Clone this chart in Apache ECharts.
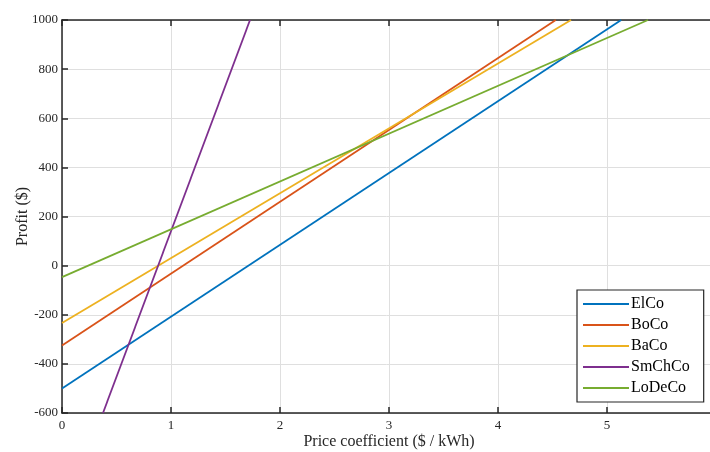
<!DOCTYPE html>
<html><head><meta charset="utf-8">
<script src="https://cdn.jsdelivr.net/npm/echarts@6/dist/echarts.min.js"></script>
<style>html,body{margin:0;padding:0;background:#fff}#c{width:710px;height:452px}</style>
</head><body><div id="c"></div>
<script>
const seriesNames = ['ElCo','BoCo','BaCo','SmChCo','LoDeCo'];
const colors = ['#0072BD','#D95319','#EDB120','#7E2F8E','#77AC30'];
// endpoints: [price, profit]
const elco   = [[0,-500],[5.13,1000]];
const boco   = [[0,-325],[4.53,1000]];
const baco   = [[0,-234],[4.67,1000]];
const smchco = [[0.376,-600],[1.725,1000]];
const lodeco = [[0,-47],[5.376,1000]];
const allData = [elco,boco,baco,smchco,lodeco];
const xTicks = [0,1,2,3,4,5,6];
const yTicks = [-600,-400,-200,0,200,400,600,800,1000];

const font = 'Liberation Serif';
const chart = echarts.init(document.getElementById('c'));
const axLine = {show:true,onZero:false,lineStyle:{color:'#262626',width:1.5}};
const axTick = {show:true,inside:true,length:6,lineStyle:{color:'#262626',width:1.5}};
chart.setOption({
  animation:false,
  textStyle:{fontFamily:font},
  grid:{left:62,top:20,width:654,height:393,outerBoundsMode:'none',containLabel:false},
  xAxis:[{
    type:'value',min:xTicks[0],max:xTicks[xTicks.length-1],interval:1,
    name:'Price coefficient ($ / kWh)',nameLocation:'middle',nameGap:21,nameMoveOverlap:false,
    nameTextStyle:{fontFamily:font,fontSize:16,color:'#262626'},
    axisLine:axLine,axisTick:axTick,
    axisLabel:{fontFamily:font,fontSize:13,color:'#262626',margin:6},
    splitLine:{show:true,lineStyle:{color:'#dfdfdf',width:1}}
  },{
    type:'value',position:'top',min:xTicks[0],max:xTicks[xTicks.length-1],interval:1,
    axisLine:axLine,axisTick:axTick,
    axisLabel:{show:false},splitLine:{show:false}
  }],
  yAxis:[{
    type:'value',min:yTicks[0],max:yTicks[yTicks.length-1],interval:200,
    name:'Profit ($)',nameLocation:'middle',nameGap:31,nameMoveOverlap:false,
    nameTextStyle:{fontFamily:font,fontSize:16,color:'#262626'},
    axisLine:axLine,axisTick:axTick,
    axisLabel:{fontFamily:font,fontSize:13,color:'#262626',margin:4,formatter:v=>String(v)},
    splitLine:{show:true,lineStyle:{color:'#dfdfdf',width:1}}
  },{
    type:'value',position:'right',min:yTicks[0],max:yTicks[yTicks.length-1],interval:200,
    axisLine:axLine,axisTick:axTick,
    axisLabel:{show:false},splitLine:{show:false}
  }],
  legend:{
    orient:'vertical',left:577,top:290,
    data:seriesNames,
    icon:'rect',itemWidth:46,itemHeight:2,itemGap:5,
    padding:[6,14,6,6],
    borderColor:'#262626',borderWidth:1.2,backgroundColor:'#fff',
    textStyle:{fontFamily:font,fontSize:16,color:'#000',padding:[0,0,0,-3]}
  },
  series:seriesNames.map((n,i)=>({
    name:n,type:'line',data:allData[i],showSymbol:false,symbol:'none',
    lineStyle:{color:colors[i],width:1.8},itemStyle:{color:colors[i]},
    clip:true
  }))
});
</script></body></html>
